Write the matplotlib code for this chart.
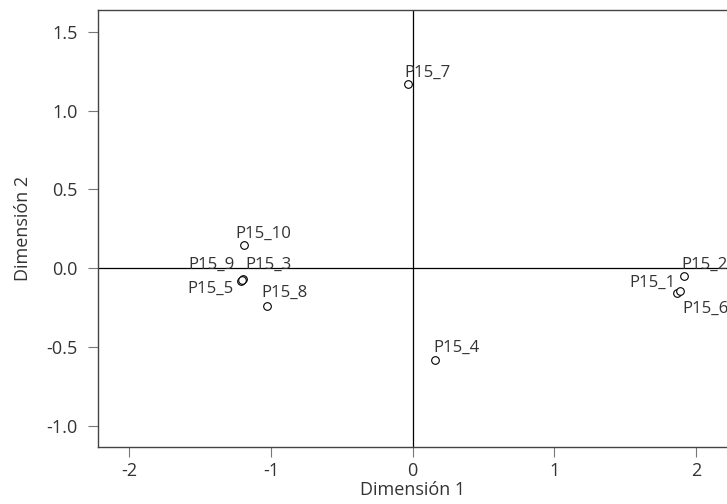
import matplotlib
matplotlib.use("Agg")
import matplotlib.pyplot as plt

plt.rcParams["font.family"] = ["Open Sans", "DejaVu Sans"]

# coordenadas de las categorias (P15)
labels = ["P15_1", "P15_2", "P15_3", "P15_4", "P15_5",
          "P15_6", "P15_7", "P15_8", "P15_9", "P15_10"]
dim1 = [1.870, 1.919, -1.195, 0.159, -1.213, 1.889, -0.030, -1.030, -1.205, -1.189]
dim2 = [-0.159, -0.050, -0.068, -0.582, -0.081, -0.144, 1.168, -0.239, -0.075, 0.146]

xticks = [-2, -1, 0, 1, 2]
yticks = [-1.0, -0.5, 0.0, 0.5, 1.0, 1.5]

# label placement (pixels offset from point, alignment)
offsets = {
    "P15_1": (-2, 7, "right"),
    "P15_2": (-3, 7, "left"),
    "P15_3": (2, 10, "left"),
    "P15_4": (-2, 8, "left"),
    "P15_5": (-7, -12, "right"),
    "P15_6": (2, -22, "left"),
    "P15_7": (-4, 7, "left"),
    "P15_8": (-5, 9, "left"),
    "P15_9": (-7, 11, "right"),
    "P15_10": (-9, 7, "left"),
}

txt = "#333333"
fs = 13
fig = plt.figure(figsize=(7.27, 5.04), dpi=100)
ax = fig.add_axes([0.1352, 0.1137, 0.8648, 0.8665])

ax.axhline(0, color="black", lw=0.9, zorder=1)
ax.axvline(0, color="black", lw=0.9, zorder=1)
ax.plot(dim1, dim2, "o", ms=5.5, mfc="white", mec="black", mew=0.8, ls="none", zorder=3)

for lab, x, y in zip(labels, dim1, dim2):
    dx, dy, ha = offsets[lab]
    ax.annotate(lab, (x, y), xytext=(dx, dy), textcoords="offset pixels",
                ha=ha, va="baseline", fontsize=12.1, color=txt)

ax.set_xlim(-2.22, 2.22)
ax.set_ylim(-1.132, 1.639)
ax.set_xticks(xticks)
ax.set_xticklabels([str(t) for t in xticks])
ax.set_yticks(yticks)
ax.set_yticklabels([f"{t:.1f}" for t in yticks])

for s in ["left", "bottom", "top"]:
    ax.spines[s].set_color("#444444")
    ax.spines[s].set_linewidth(1.0)
ax.spines["right"].set_visible(False)

ax.tick_params(direction="out", length=7, width=0.8, color="#777777",
               labelsize=fs, labelcolor=txt, pad=8)
ax.tick_params(axis="x", pad=4)
ax.set_xlabel("Dimensión 1", fontsize=fs, color=txt, labelpad=1)
ax.set_ylabel("Dimensión 2", fontsize=fs, color=txt, labelpad=10)

fig.savefig("out.png", dpi=100)
